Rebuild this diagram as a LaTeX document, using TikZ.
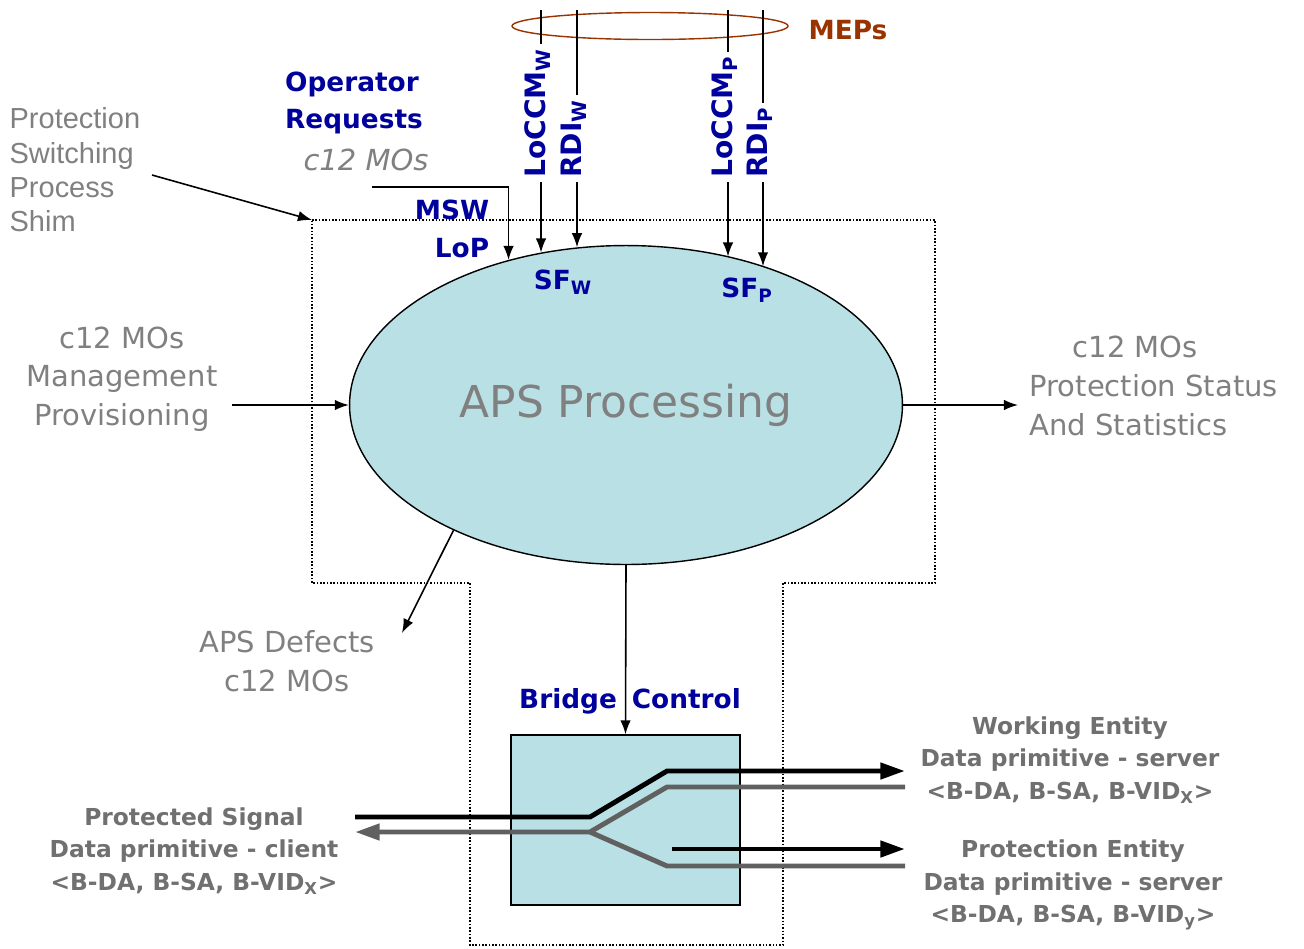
\documentclass[tikz,border=0pt]{standalone}
\usepackage{fontspec}
\setmainfont{DejaVu Sans}
\newfontfamily\shimfont{Liberation Sans}
\usepackage{tikz}
\usetikzlibrary{arrows.meta,shapes.geometric}
\definecolor{apsblue}{HTML}{00009C}
\definecolor{apsgray}{HTML}{808080}
\definecolor{datagray}{HTML}{707070}
\definecolor{mepbrown}{HTML}{993300}
\definecolor{apsfill}{HTML}{B9E0E4}
\definecolor{wiregray}{HTML}{606060}

\begin{document}
\begin{tikzpicture}[x=0.02cm,y=-0.02cm,line width=0.9pt,>={Latex[length=8pt,width=6pt]},
  lbl/.style={apsblue,font=\fontsize{15}{21.5}\selectfont\bfseries},
  vlab/.style={apsblue,font=\fontsize{16}{16}\selectfont\bfseries,rotate=90,anchor=mid west,inner sep=2pt},
  mo/.style={apsgray,font=\fontsize{16.5}{22}\selectfont},
  dp/.style={datagray,font=\fontsize{13.3}{18.5}\selectfont\bfseries,align=center},
  fat/.style={line width=2.8pt},
  fattip/.style={-{Triangle[length=14pt,width=9pt]}}]
 \useasboundingbox (0,0) rectangle (1304,948);
 % shim outline
 \draw[densely dotted] (312,220) coordinate (shim) -- (935,220) -- (935,583) -- (783,583)
  -- (783,945) -- (470,945) -- (470,583) -- (312,583) -- cycle;
 \node[ellipse,draw,thick,fill=apsfill,text=apsgray,minimum width=11.06cm,minimum height=6.38cm,
  inner sep=0pt,font=\fontsize{25}{25}\selectfont] (aps) at (626,405) {\raisebox{-4pt}{APS Processing}};

 % MEP signals from the top
 \node[ellipse,draw=mepbrown,thick,minimum width=5.52cm,minimum height=0.54cm] (mepring) at (650,26) {};
 \node[mepbrown,font=\fontsize{15}{15}\selectfont\bfseries] (meps) at (848,30) {MEPs};
 \node[vlab] (ccmw) at (541,182) {LoCCM\textsubscript{W}};
 \node[vlab] (rdiw) at (577,182) {RDI\textsubscript{W}};
 \node[vlab] (ccmp) at (728,182) {LoCCM\textsubscript{P}};
 \node[vlab] (rdip) at (763,182) {RDI\textsubscript{P}};
 \coordinate (ttop) at (0,10);
 \foreach \v/\a in {ccmw/119.25,rdiw/107.7,ccmp/55.5,rdip/45.3}{
  \draw (\v.mid east) -- (\v.mid east |- ttop);
  \draw[->] (\v.mid west) -- (\v.mid west |- aps.\a);
 }
 \node[lbl] (sfw) at (563,282) {SF\textsubscript{W}};
 \node[lbl] (sfp) at (747,290) {SF\textsubscript{P}};

 % operator requests
 \node[lbl,align=left] (opreq) at (354,103) {Operator\\Requests};
 \node[mo,font=\fontsize{16.5}{22}\selectfont\itshape] (opmo) at (366,160) {c12 MOs};
 \node[lbl,align=right] (msw) at (452,229) {MSW\\LoP};
 \coordinate (mswin) at (372,187);
 \draw[->] (mswin) -| (aps.129.3);

 % shim label
 \node[apsgray,font=\shimfont\fontsize{16.5}{19.5}\selectfont,align=left,anchor=west] (shimlbl) at (3,170)
  {Protection\\Switching\\Process\\Shim};
 \coordinate (shimin) at (152,175);
 \draw[->] (shimin) -- (shim);

 % management in, status out, defects out
 \node[mo,align=center] (mgmt) at (122,379) {c12 MOs\\Management\\Provisioning};
 \coordinate (mgin) at (232,405);
 \draw[->] (mgin) -- (aps.west);
 \node[mo,align=left,anchor=west] (stat) at (1023,386) {\hspace*{0.86cm}c12 MOs\\Protection Status\\And Statistics};
 \coordinate (statout) at (1018,405);
 \draw[->] (aps.east) -- (statout);
 \node[mo,align=center] (defects) at (287,661) {APS Defects\\c12 MOs};
 \coordinate (defout) at (402,633);
 \draw[->] (aps.216.7) -- (defout);

 % bridge
 \node[draw,thick,fill=apsfill,minimum width=4.58cm,minimum height=3.4cm] (bridge) at (625.5,820) {};
 \node[lbl] (bctl) at (630,701) {Bridge\hspace{8.5pt}Control};
 \draw[->] (aps.south) -- (bridge.north);

 \coordinate (cin) at (355,817);
 \coordinate (split) at (590,817);
 \coordinate (wup) at (667,771);
 \coordinate (wout) at (905,771);
 \coordinate (wback) at (905,787);
 \coordinate (wlow) at (667,787);
 \coordinate (gsplit) at (590,832);
 \coordinate (cout) at (355,832);
 \coordinate (plow) at (667,866);
 \coordinate (pback) at (905,866);
 \coordinate (pin) at (672,849);
 \coordinate (pout) at (905,849);
 \draw[fat,fattip] (cin) -- (split) -- (wup) -- (wout);
 \draw[fat,wiregray,fattip] (wback) -- (wlow) -- (gsplit) -- (cout);
 \draw[fat,wiregray] (gsplit) -- (plow) -- (pback);
 \draw[fat,fattip] (pin) -- (pout);

 \node[dp] (client) at (194,851) {Protected Signal\\Data primitive - client\\<B-DA, B-SA, B-VID\textsubscript{X}>};
 \node[dp] (wlbl) at (1070,760) {Working Entity\\Data primitive - server\\<B-DA, B-SA, B-VID\textsubscript{X}>};
 \node[dp] (plbl) at (1073,885) {Protection Entity\\Data primitive - server\\<B-DA, B-SA, B-VID\textsubscript{y}>};
\end{tikzpicture}
\end{document}
